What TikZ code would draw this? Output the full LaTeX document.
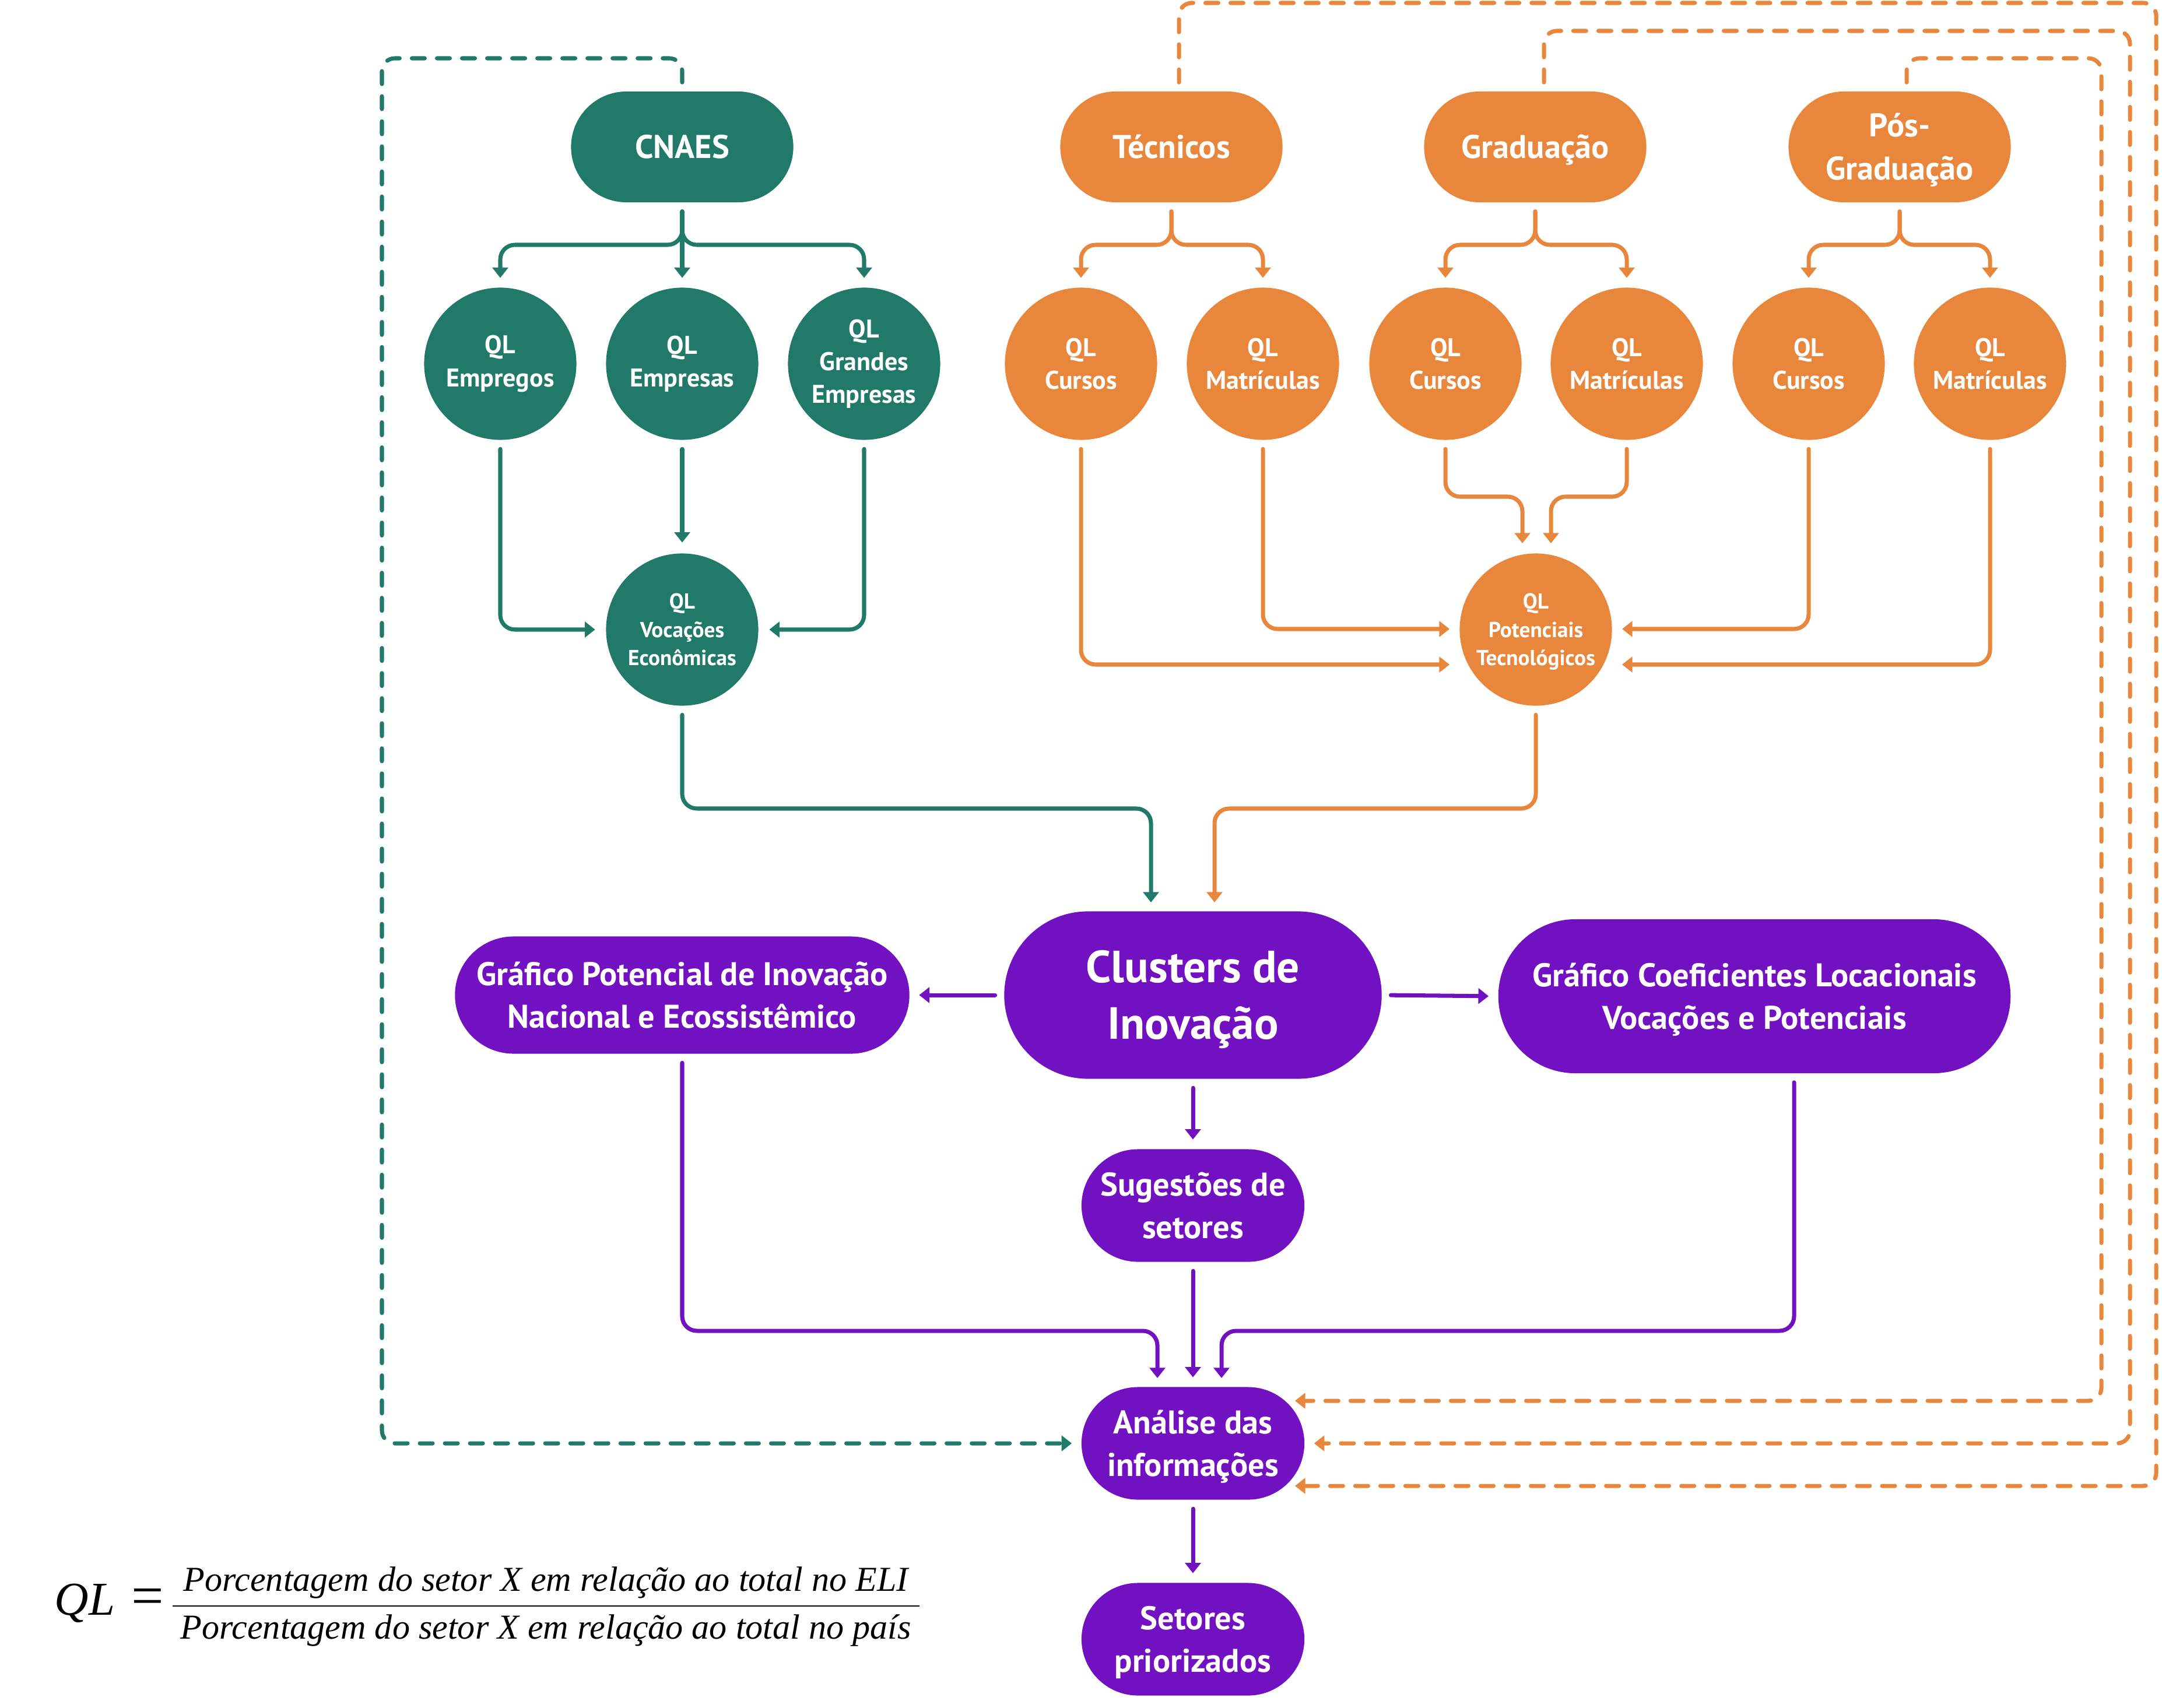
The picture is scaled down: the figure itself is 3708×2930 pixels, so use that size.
\documentclass[tikz,border=0pt]{standalone}
\usepackage{fontspec}
\usepackage{amsmath}
\setmainfont{PT Sans}
\newfontfamily\formfont{Liberation Serif}
\usetikzlibrary{arrows.meta,calc}
\definecolor{cgreen}{HTML}{217A69}
\definecolor{corange}{HTML}{E8863B}
\definecolor{cpurple}{HTML}{7211C2}
\begin{document}
\begin{tikzpicture}[x=0.01cm,y=-0.01cm,
  pill/.style={rectangle, inner sep=0pt, text=white, align=center},
  topbox/.style={pill, minimum width=3.81cm, minimum height=1.90cm, rounded corners=0.95cm, font=\fontsize{16}{21}\selectfont\bfseries},
  qlc/.style={circle, inner sep=0pt, minimum size=2.61cm, text=white, align=center, font=\fontsize{12.5}{16}\selectfont\bfseries},
  qlbig/.style={qlc, font=\fontsize{10.6}{13.8}\selectfont\bfseries},
  pfont/.style={font=\fontsize{16}{20.8}\selectfont\bfseries},
  pbox/.style={pill, pfont, fill=cpurple, minimum width=3.82cm, minimum height=1.93cm, rounded corners=0.965cm},
  conn/.style={line width=2pt, line cap=round, line join=round, rounded corners=0.25cm, -{Triangle[width=7.5pt,length=5pt]}, shorten <=0.15cm},
  gconn/.style={conn, draw=cgreen},
  oconn/.style={conn, draw=corange},
  pconn/.style={conn, draw=cpurple},
  endgap/.style={shorten >=0.16cm},
  dconn/.style={dash pattern=on 0.22cm off 0.21cm, rounded corners=0.22cm},
]
\fill[white] (0,0) rectangle (3708,2930);
\useasboundingbox (0,0) rectangle (3708,2930);

% top nodes
\node[topbox, fill=cgreen] (cnaes) at (1170,252) {CNAES};
\node[topbox, fill=corange] (tec) at (2009,252) {Técnicos};
\node[topbox, fill=corange] (grad) at (2633,252) {Gradua\smash{ç}ão};
\node[topbox, fill=corange] (pos) at (3258,252) {Pós-\\Gradua\smash{ç}ão};

% QL circles
\node[qlc, fill=cgreen] (emp) at (858,624) {QL\\Empregos};
\node[qlc, fill=cgreen] (empr) at (1170,624) {QL\\Empresas};
\node[qlc, fill=cgreen] (grand) at (1482,624) {QL\\Grandes\\Empresas};
\node[qlc, fill=corange] (c1) at (1854,624) {QL\\Cursos};
\node[qlc, fill=corange] (m1) at (2166,624) {QL\\Matrículas};
\node[qlc, fill=corange] (c2) at (2479,624) {QL\\Cursos};
\node[qlc, fill=corange] (m2) at (2790,624) {QL\\Matrículas};
\node[qlc, fill=corange] (c3) at (3102,624) {QL\\Cursos};
\node[qlc, fill=corange] (m3) at (3413,624) {QL\\Matrículas};

\node[qlbig, fill=cgreen] (voc) at (1170,1080) {QL\\Vocações\\Econômicas};
\node[qlbig, fill=corange] (pot) at (2634,1080) {QL\\Potenciais\\Tecnoló\smash{g}icos};

% purple nodes
\node[pill, fill=cpurple, minimum width=6.47cm, minimum height=2.87cm, rounded corners=1.435cm, font=\fontsize{22}{27.5}\selectfont\bfseries] (clus) at (2046,1707) {Clusters de\\Inova\smash{ç}ão};
\node[pill, pfont, fill=cpurple, minimum width=7.79cm, minimum height=2.01cm, rounded corners=1.005cm] (gpot) at (1170,1707) {Gráfico Potencial de Inovação\\Nacional e Ecossistêmico};
\node[pill, pfont, fill=cpurple, minimum width=8.78cm, minimum height=2.64cm, rounded corners=1.32cm] (gcoef) at (3009,1709) {Gráfico Coeficientes Locacionais\\Voca\smash{ç}ões e Potenciais};
\node[pbox] (sug) at (2046,2068) {Sugestões de\\setores};
\node[pbox] (ana) at (2046,2476) {Análise das\\informa\smash{ç}ões};
\node[pbox] (set) at (2046,2812) {Setores\\\smash{p}riorizados};

% coordinates
\coordinate (gj) at (1170,420);
\coordinate (tj) at (2009,420);
\coordinate (dj) at (2633,420);
\coordinate (pj) at (3258,420);
\coordinate (pl1) at (2486,1079);
\coordinate (pl2) at (2486,1140);
\coordinate (pr1) at (2782,1079);
\coordinate (pr2) at (2782,1140);
\coordinate (pt1) at (2611,932);
\coordinate (pt2) at (2660,932);
\coordinate (cv) at (1974,1548);
\coordinate (cp) at (2083,1548);
\coordinate (ag) at (1985,2364);
\coordinate (ac) at (2095,2364);
\coordinate (at1) at (2221,2403);
\coordinate (at3) at (2221,2549);

% green connectors
\draw[gconn, endgap] (cnaes.south) -- (gj) -| (emp.north);
\draw[gconn, endgap] (cnaes.south) -- (empr.north);
\draw[gconn, endgap] (cnaes.south) -- (gj) -| (grand.north);
\draw[gconn, shorten >=0.18cm] (emp.south) |- (voc.west);
\draw[gconn, shorten >=0.18cm] (empr.south) -- (voc.north);
\draw[gconn, shorten >=0.18cm] (grand.south) |- (voc.east);
\draw[gconn] (voc.south) -- (1170,1387) -| (cv);

% orange connectors
\draw[oconn, endgap] (tec.south) -- (tj) -| (c1.north);
\draw[oconn, endgap] (tec.south) -- (tj) -| (m1.north);
\draw[oconn, endgap] (grad.south) -- (dj) -| (c2.north);
\draw[oconn, endgap] (grad.south) -- (dj) -| (m2.north);
\draw[oconn, endgap] (pos.south) -- (pj) -| (c3.north);
\draw[oconn, endgap] (pos.south) -- (pj) -| (m3.north);
\draw[oconn] (c1.south) |- (pl2);
\draw[oconn] (m1.south) |- (pl1);
\draw[oconn] (c2.south) -- (2479,852) -| (pt1);
\draw[oconn] (m2.south) -- (2790,852) -| (pt2);
\draw[oconn] (c3.south) |- (pr1);
\draw[oconn] (m3.south) |- (pr2);
\draw[oconn] (pot.south) -- (2634,1387) -| (cp);

% purple connectors
\draw[pconn, endgap] (clus.west) -- (gpot.east);
\draw[pconn, endgap] (clus.east) -- (gcoef.west);
\draw[pconn, endgap] (clus.south) -- (sug.north);
\draw[pconn, endgap] (sug.south) -- (ana.north);
\draw[pconn] (gpot.south) -- (1170,2283) -| (ag);
\draw[pconn] ($(gcoef.south)+(68,0)$) -- (3077,2283) -| (ac);
\draw[pconn, endgap] (ana.south) -- (set.north);

% dashed feedback
\draw[gconn, dconn, endgap] (cnaes.north) -- (1170,100) -- (655,100) -- (655,2476) -- (ana.west);
\draw[oconn, dconn] ($(tec.north)+(13,0)$) -- (2022,5) -- (3698,5) -- (3698,2549) -- (at3);
\draw[oconn, dconn, endgap] ($(grad.north)+(15,0)$) -- (2648,53) -- (3653,53) -- (3653,2476) -- (ana.east);
\draw[oconn, dconn] ($(pos.north)+(12,0)$) -- (3270,100) -- (3604,100) -- (3604,2403) -- (at1);

% formula
\node[inner sep=0pt, anchor=west] (formula) at (93,2756) {\formfont\fontsize{17.1}{20}\selectfont $\text{\fontsize{23}{28}\selectfont\itshape QL}\kern8pt\text{\fontsize{28}{30}\selectfont =}\kern3pt\dfrac{\text{\itshape\kern4pt Porcentagem do setor X em relação ao total no ELI\kern4pt}}{\text{\itshape\kern4pt Porcentagem do setor X em relação ao total no país\kern4pt}}$};
\end{tikzpicture}
\end{document}
